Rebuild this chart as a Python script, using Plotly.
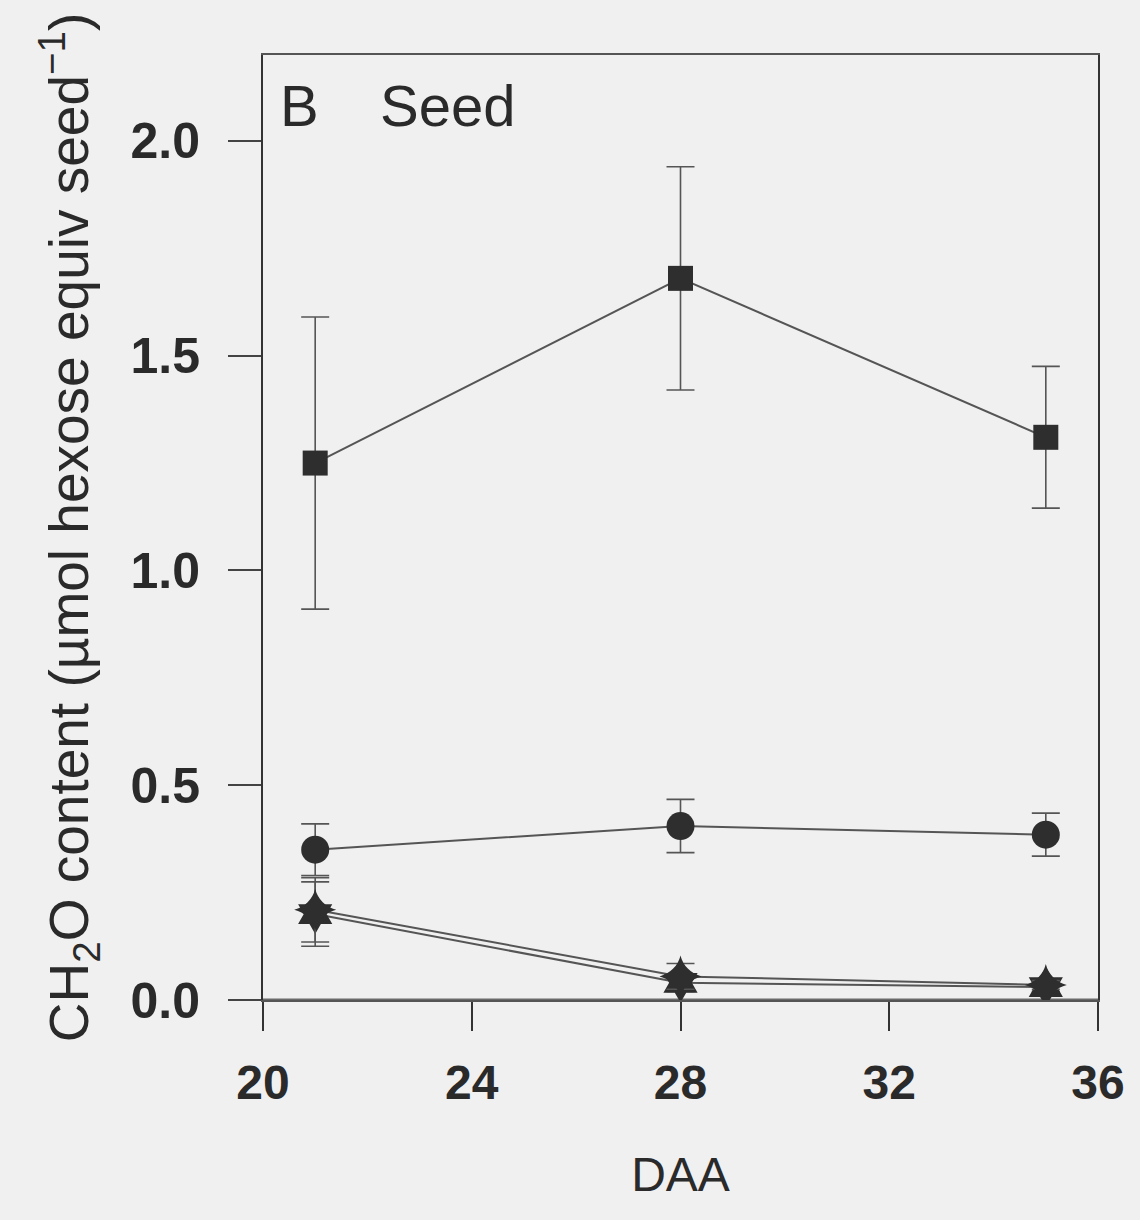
import plotly.graph_objects as go

daa = [21, 28, 35]

square_vals = [1.25, 1.68, 1.31]
square_err = [0.34, 0.26, 0.165]

circle_vals = [0.35, 0.405, 0.385]
circle_err = [0.06, 0.062, 0.05]

diamond_vals = [0.21, 0.055, 0.035]
diamond_err = [0.075, 0.03, 0.01]

star_vals = [0.20, 0.04, 0.03]
star_err = [0.075, 0.02, 0.01]

x_ticks = [20, 24, 28, 32, 36]
y_ticks = [0.0, 0.5, 1.0, 1.5, 2.0]
y_ticklabels = ["0.0", "0.5", "1.0", "1.5", "2.0"]

FONT = "Liberation Sans, Arial, sans-serif"
LINE = "#555555"
MARK = "#2e2e2e"
TEXT = "#2a2a2a"

fig = go.Figure()

def add_series(vals, errs, symbol, size):
    fig.add_trace(go.Scatter(
        x=daa, y=vals, mode="lines+markers",
        line=dict(color=LINE, width=2),
        marker=dict(symbol=symbol, size=size, color=MARK, line=dict(width=0)),
        error_y=dict(type="data", array=errs, visible=True, color=LINE,
                     thickness=1.6, width=14),
        showlegend=False,
    ))

add_series(star_vals, star_err, "hexagram", 30)
add_series(diamond_vals, diamond_err, "star-diamond", 30)
add_series(circle_vals, circle_err, "circle", 28)
add_series(square_vals, square_err, "square", 25)

# zero line across the plot
fig.add_shape(type="line", xref="x", yref="y", x0=20, x1=36, y0=0, y1=0,
              line=dict(color="#6a6a6a", width=3), layer="below")

fig.add_annotation(x=0.018, y=0.947, xref="paper", yref="paper", text="B",
                   showarrow=False, xanchor="left", yanchor="middle",
                   font=dict(family=FONT, size=58, color=TEXT))
fig.add_annotation(x=0.138, y=0.947, xref="paper", yref="paper", text="Seed",
                   showarrow=False, xanchor="left", yanchor="middle",
                   font=dict(family=FONT, size=58, color=TEXT))

fig.update_layout(
    width=1140, height=1220,
    margin=dict(l=263, r=42, t=55, b=220),
    paper_bgcolor="#f0f0f0", plot_bgcolor="#f0f0f0",
    font=dict(family=FONT, color=TEXT),
    xaxis=dict(
        range=[20, 36], tickvals=x_ticks, ticktext=[str(v) for v in x_ticks],
        showgrid=False, zeroline=False,
        showline=True, linecolor="#555555", linewidth=2, mirror=True,
        ticks="outside", ticklen=29, tickwidth=2, tickcolor="#333333",
        tickfont=dict(family=FONT, size=48, color=TEXT, weight="bold"),
        ticklabelstandoff=10,
        title=dict(text="DAA", font=dict(family=FONT, size=48, color=TEXT), standoff=50),
    ),
    yaxis=dict(
        range=[0, 2.2], tickvals=y_ticks, ticktext=y_ticklabels,
        showgrid=False, zeroline=False,
        showline=True, linecolor="#333333", linewidth=2, mirror=True,
        ticks="outside", ticklen=33, tickwidth=2, tickcolor="#444444",
        tickfont=dict(family=FONT, size=50, color=TEXT, weight="bold"),
        ticklabelstandoff=18,
        title=dict(text="CH<sub>2</sub>O content (µmol hexose equiv seed<sup>−1</sup>)",
                   font=dict(family=FONT, size=55, color=TEXT), standoff=24),
    ),
)

fig.write_html("out.html")
